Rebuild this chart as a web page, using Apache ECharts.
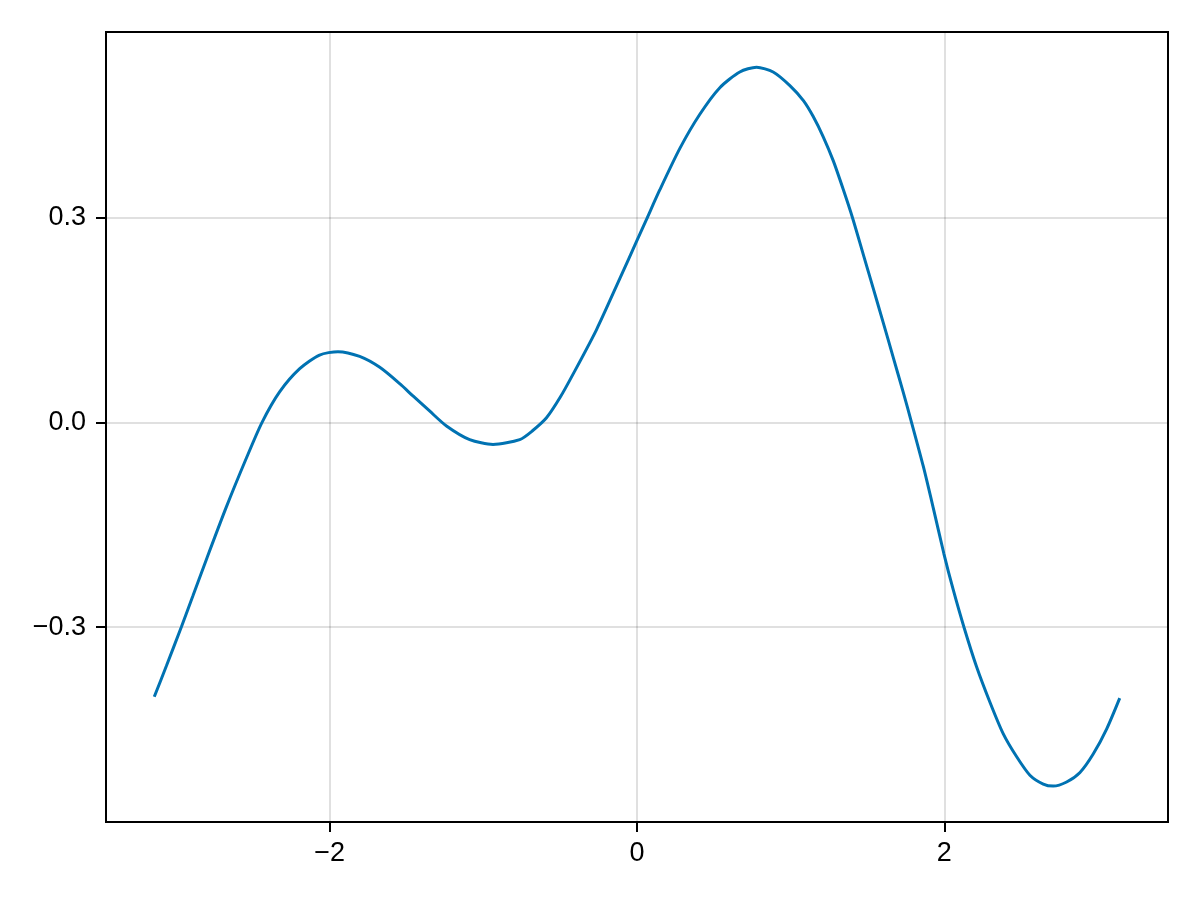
<!DOCTYPE html>
<html>
<head>
<meta charset="utf-8">
<script src="https://cdn.jsdelivr.net/npm/echarts@6/dist/echarts.min.js"></script>
<style>
html,body{margin:0;padding:0;background:#fff;}
#c{width:1200px;height:900px;}
</style>
</head>
<body>
<div id="c"></div>
<script>
var xValues = [-3.1416,-3.063,-2.966,-2.890,-2.803,-2.673,-2.542,-2.441,-2.326,-2.195,-2.066,-1.946,-1.805,-1.674,-1.544,-1.458,-1.350,-1.240,-1.089,-0.937,-0.763,-0.680,-0.589,-0.500,-0.416,-0.264,-0.112,0.000,0.062,0.148,0.279,0.409,0.539,0.669,0.778,0.886,0.995,1.083,1.146,1.212,1.277,1.342,1.403,1.472,1.537,1.602,1.667,1.732,1.787,1.863,1.928,1.997,2.058,2.128,2.210,2.297,2.383,2.471,2.557,2.644,2.709,2.796,2.883,2.969,3.057,3.1416];
var yValues = [-0.402,-0.357,-0.300,-0.254,-0.201,-0.124,-0.052,0.000,0.045,0.079,0.099,0.104,0.097,0.081,0.057,0.039,0.017,-0.005,-0.025,-0.032,-0.025,-0.012,0.007,0.037,0.071,0.136,0.211,0.267,0.298,0.341,0.402,0.452,0.491,0.514,0.521,0.514,0.494,0.472,0.449,0.419,0.384,0.342,0.300,0.247,0.197,0.147,0.096,0.045,0.000,-0.064,-0.125,-0.192,-0.245,-0.300,-0.358,-0.410,-0.456,-0.490,-0.517,-0.530,-0.533,-0.527,-0.513,-0.486,-0.449,-0.404];
var xTicks = [-2, 0, 2];
var xTickLabels = ['\u22122', '0', '2'];
var yTicks = [-0.3, 0, 0.3];
var yTickLabels = ['\u22120.3', '0.0', '0.3'];

var data = xValues.map(function (x, i) { return [x, yValues[i]]; });

function labelFor(ticks, labels) {
  return function (v) {
    for (var i = 0; i < ticks.length; i++) {
      if (Math.abs(ticks[i] - v) < 1e-9) return labels[i];
    }
    return '';
  };
}

var chart = echarts.init(document.getElementById('c'), null, {renderer: 'canvas'});
var font = 'Liberation Sans, Arial, sans-serif';
chart.setOption({
  animation: false,
  backgroundColor: '#ffffff',
  grid: {
    left: 106, right: 32, top: 32, bottom: 78,
    show: true, borderColor: '#000', borderWidth: 2,
    outerBoundsMode: 'none'
  },
  xAxis: {
    type: 'value',
    min: -3.4558, max: 3.4558,
    axisLine: {show: true, onZero: false, lineStyle: {color: '#000', width: 2}},
    axisTick: {show: true, length: 10, lineStyle: {color: '#000', width: 2}, customValues: xTicks},
    axisLabel: {
      customValues: xTicks,
      formatter: labelFor(xTicks, xTickLabels),
      color: '#000', fontSize: 27, fontFamily: font, margin: 18
    },
    splitLine: {show: true, lineStyle: {color: 'rgba(0,0,0,0.12)', width: 2}}
  },
  yAxis: {
    type: 'value',
    min: -0.5856, max: 0.5726,
    axisLine: {show: true, onZero: false, lineStyle: {color: '#000', width: 2}},
    axisTick: {show: true, length: 10, lineStyle: {color: '#000', width: 2}, customValues: yTicks},
    axisLabel: {
      customValues: yTicks,
      formatter: labelFor(yTicks, yTickLabels),
      color: '#000', fontSize: 27, fontFamily: font, margin: 20
    },
    splitLine: {show: true, lineStyle: {color: 'rgba(0,0,0,0.12)', width: 2}}
  },
  series: [{
    type: 'line',
    data: data,
    smooth: 0.25,
    showSymbol: false,
    symbol: 'none',
    lineStyle: {color: '#0072b2', width: 3},
    itemStyle: {color: '#0072b2'},
    silent: true
  }]
});
</script>
</body>
</html>
